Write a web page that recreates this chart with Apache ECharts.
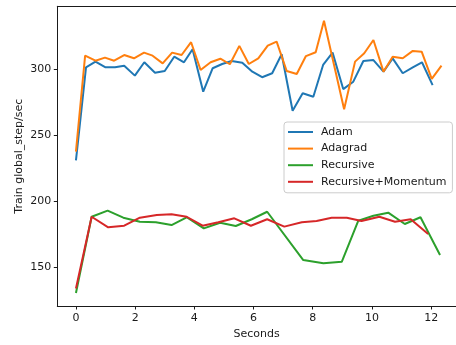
<!DOCTYPE html>
<html>
<head>
<meta charset="utf-8">
<script src="https://cdn.jsdelivr.net/npm/echarts@6/dist/echarts.min.js"></script>
<style>
  html, body { margin: 0; padding: 0; background: #fff; }
  #chart { width: 456px; height: 345px; }
</style>
</head>
<body>
<div id="chart"></div>
<script>
// Training throughput (global steps per second) over wall-clock seconds
const adamTime = [0, 0.34, 0.66, 1.0, 1.32, 1.63, 1.99, 2.31, 2.67, 3.0, 3.32, 3.65, 3.94, 4.3, 4.62, 4.94, 5.26, 5.62, 5.96, 6.29, 6.63, 6.95, 7.32, 7.66, 8.02, 8.35, 8.67, 9.03, 9.37, 9.71, 10.05, 10.39, 10.7, 11.04, 11.38, 11.69, 12.05];
const adamRate = [231, 301.5, 305.8, 301.5, 301.5, 302.7, 295.2, 305.3, 297.4, 298.7, 309.5, 305.3, 315.2, 283, 300.8, 304, 306.3, 305, 298.2, 294, 297, 311.4, 268.6, 281.8, 279.2, 303.3, 312.6, 285, 290.6, 306.3, 307, 298.2, 308.3, 297, 301.5, 305.3, 288];

const adagradTime = [0, 0.31, 0.66, 0.98, 1.29, 1.63, 1.96, 2.3, 2.59, 2.93, 3.25, 3.57, 3.89, 4.21, 4.55, 4.88, 5.2, 5.52, 5.84, 6.16, 6.48, 6.78, 7.12, 7.46, 7.77, 8.1, 8.38, 9.06, 9.43, 9.74, 10.05, 10.39, 10.7, 11.04, 11.38, 11.68, 12.02, 12.35];
const adagradRate = [237.6, 310.3, 306.5, 308.8, 306.5, 310.8, 308.3, 312.6, 310.3, 304.5, 312.6, 310.8, 320.5, 299.5, 305.3, 308, 303.8, 317.7, 304, 308.3, 317.9, 320.9, 298.7, 296.4, 310, 312.9, 336.8, 269.7, 305.8, 312.1, 322.2, 298.2, 309.5, 308.3, 313.9, 313.3, 292.7, 302.7];

const recursiveTime = [0, 0.53, 1.07, 1.6, 2.16, 2.7, 3.23, 3.74, 4.32, 4.87, 5.4, 5.94, 6.46, 7.68, 8.36, 8.98, 9.54, 10.05, 10.55, 11.11, 11.64, 12.3];
const recursiveRate = [130.5, 188.3, 192.9, 187.6, 184.5, 184.1, 182, 187.9, 179.5, 183.8, 181.3, 186.4, 192.1, 155.5, 153, 154.2, 185.3, 189.1, 191.4, 182.8, 187.9, 159.3];

const momentumTime = [0, 0.53, 1.09, 1.63, 2.16, 2.73, 3.23, 3.74, 4.28, 4.81, 5.35, 5.91, 6.46, 7.04, 7.63, 8.13, 8.64, 9.15, 9.65, 10.25, 10.78, 11.31, 11.9];
const momentumRate = [134, 188.3, 180.3, 181.5, 187.6, 189.6, 190.2, 188.3, 181.5, 184.1, 187.1, 181.5, 186.4, 180.8, 184.1, 185.1, 187.6, 187.6, 185.1, 188.3, 184.5, 186.4, 175.2];

const seriesNames = ['Adam', 'Adagrad', 'Recursive', 'Recursive+Momentum'];
const seriesColors = ['#1f77b4', '#ff7f0e', '#2ca02c', '#d62728'];
const xTicks = [0, 2, 4, 6, 8, 10, 12];
const yTicks = [150, 200, 250, 300];

const pairs = (t, v) => t.map((x, i) => [x, v[i]]);
const seriesData = [
  pairs(adamTime, adamRate),
  pairs(adagradTime, adagradRate),
  pairs(recursiveTime, recursiveRate),
  pairs(momentumTime, momentumRate)
];

const FONT = 'DejaVu Sans';
const INK = '#1a1a1a';
const X_MIN = -0.63, X_MAX = 12.84;

const chart = echarts.init(document.getElementById('chart'), null, { renderer: 'canvas' });
chart.setOption({
  animation: false,
  backgroundColor: '#ffffff',
  textStyle: { fontFamily: FONT },
  grid: { left: 57.3, top: 6.3, right: 0, height: 299.7, show: false },
  legend: {
    orient: 'vertical',
    left: 284, top: 122,
    width: 170,
    padding: [4.5, 6, 5.5, 4],
    icon: 'rect',
    itemWidth: 25, itemHeight: 2, itemGap: 5.6,
    backgroundColor: 'rgba(255,255,255,0.8)',
    borderColor: '#cccccc', borderWidth: 1, borderRadius: 3,
    textStyle: { fontFamily: FONT, fontSize: 11, color: INK, lineHeight: 11, padding: [0, 0, 0, 3] },
    data: seriesNames
  },
  xAxis: [{
    type: 'value', min: X_MIN, max: X_MAX,
    name: 'Seconds', nameLocation: 'middle', nameGap: 23, nameMoveOverlap: false,
    nameTextStyle: { fontFamily: FONT, fontSize: 11, color: INK },
    axisLine: { show: true, onZero: false, lineStyle: { color: INK, width: 1 } },
    axisTick: { show: true, inside: false, length: 3.5, lineStyle: { color: INK }, customValues: xTicks },
    axisLabel: { fontFamily: FONT, fontSize: 11, color: INK, margin: 7, customValues: xTicks },
    splitLine: { show: false }
  }, {
    // top frame line
    type: 'value', position: 'top', min: X_MIN, max: X_MAX,
    axisLine: { show: true, onZero: false, lineStyle: { color: INK, width: 1 } },
    axisTick: { show: false }, axisLabel: { show: false }, splitLine: { show: false }
  }],
  yAxis: {
    type: 'value', min: 120.7, max: 347.7,
    name: 'Train global_step/sec', nameLocation: 'middle', nameGap: 33, nameRotate: 90, nameMoveOverlap: false,
    nameTextStyle: { fontFamily: FONT, fontSize: 11, color: INK },
    axisLine: { show: true, onZero: false, lineStyle: { color: INK, width: 1 } },
    axisTick: { show: true, inside: false, length: 3.5, lineStyle: { color: INK }, customValues: yTicks },
    axisLabel: { fontFamily: FONT, fontSize: 11, color: INK, margin: 6, customValues: yTicks },
    splitLine: { show: false }
  },
  series: seriesNames.map((name, i) => ({
    name: name,
    type: 'line',
    data: seriesData[i],
    symbol: 'none',
    showSymbol: false,
    color: seriesColors[i],
    lineStyle: { color: seriesColors[i], width: 2 },
    emphasis: { disabled: true }
  }))
});
</script>
</body>
</html>
